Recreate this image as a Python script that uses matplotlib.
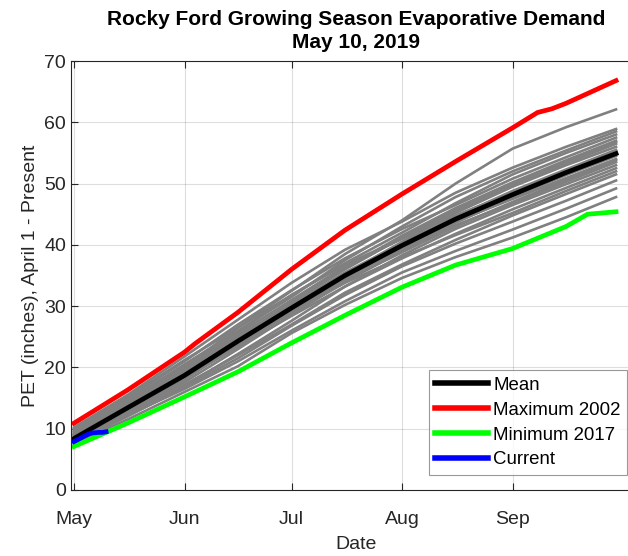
import numpy as np
import matplotlib
matplotlib.use("Agg")
import matplotlib.pyplot as plt
import matplotlib.dates as mdates

plt.rcParams['font.family'] = ['Liberation Sans', 'DejaVu Sans']

# sample dates (2019 season) for the historical curves
dates = ['2019-05-01', '2019-05-16', '2019-06-01', '2019-06-16', '2019-07-01', '2019-07-16',
         '2019-08-01', '2019-08-16', '2019-09-01', '2019-09-16', '2019-09-30']

# individual years (grey), PET inches since April 1
years_pet = [
    [9.0, 14.2, 20.0, 26.5, 32.5, 38.5, 44.0, 50.0, 55.7, 59.2, 62.1],
    [10.2, 15.5, 21.8, 27.8, 33.8, 39.2, 43.8, 48.5, 52.6, 56.0, 58.9],
    [9.2, 14.6, 20.5, 26.0, 31.5, 37.5, 43.0, 47.8, 52.0, 55.4, 58.5],
    [8.8, 13.8, 19.5, 25.8, 31.8, 37.0, 42.0, 46.8, 51.5, 55.0, 58.0],
    [9.8, 15.0, 21.0, 27.0, 32.6, 37.8, 42.6, 46.5, 50.8, 54.3, 57.5],
    [8.5, 13.5, 19.0, 24.8, 30.5, 36.2, 41.5, 46.0, 50.2, 53.8, 57.0],
    [9.2, 14.2, 19.6, 25.0, 30.6, 36.0, 41.2, 45.8, 50.0, 53.6, 56.8],
    [9.5, 14.8, 20.2, 25.5, 31.0, 36.5, 41.0, 45.5, 49.8, 53.3, 56.5],
    [8.2, 12.8, 18.0, 23.8, 29.5, 35.2, 40.5, 45.2, 49.5, 53.0, 56.0],
    [9.0, 14.0, 19.8, 25.2, 30.2, 35.5, 40.2, 44.6, 48.8, 52.3, 55.5],
    [10.0, 15.2, 21.2, 26.5, 31.8, 36.8, 41.0, 44.8, 48.5, 52.0, 55.0],
    [8.0, 12.6, 17.6, 23.0, 28.6, 34.0, 39.0, 43.6, 47.8, 51.4, 54.5],
    [8.6, 13.2, 18.4, 23.6, 29.0, 34.5, 39.5, 43.8, 47.5, 50.9, 54.0],
    [8.9, 13.9, 19.2, 24.5, 29.6, 34.2, 38.8, 43.0, 47.0, 50.6, 53.8],
    [9.4, 14.5, 19.8, 24.8, 29.8, 34.8, 39.2, 43.2, 46.8, 50.3, 53.5],
    [7.9, 12.3, 17.0, 22.2, 27.6, 33.2, 38.3, 42.6, 46.5, 49.9, 53.0],
    [8.4, 13.0, 18.2, 23.4, 28.4, 33.2, 37.8, 41.8, 45.8, 49.3, 52.5],
    [9.6, 14.4, 19.4, 24.2, 29.0, 33.8, 38.0, 41.6, 45.2, 48.8, 52.0],
    [8.1, 12.4, 17.2, 22.0, 27.0, 32.2, 36.8, 40.8, 44.8, 48.3, 51.5],
    [7.8, 12.0, 16.8, 21.5, 26.8, 31.8, 36.5, 40.2, 43.8, 47.2, 50.5],
    [8.3, 12.2, 16.5, 21.0, 26.0, 30.8, 35.5, 39.0, 42.5, 45.9, 49.2],
    [7.7, 11.5, 16.0, 20.2, 25.6, 30.2, 34.6, 38.0, 41.2, 44.5, 47.8],
]

mean_pet = [8.4, 13.4, 18.7, 24.3, 29.7, 35.0, 39.9, 44.2, 48.2, 51.8, 54.9]

max_dates = ['2019-05-01', '2019-05-16', '2019-06-01', '2019-06-04', '2019-06-16', '2019-07-01',
             '2019-07-16', '2019-08-01', '2019-08-16', '2019-09-01', '2019-09-08', '2019-09-12',
             '2019-09-16', '2019-09-30']
max_pet = [10.9, 16.3, 22.5, 23.9, 29.0, 36.0, 42.4, 48.3, 53.6, 59.1, 61.6, 62.2, 63.1, 66.8]

min_dates = ['2019-05-01', '2019-05-16', '2019-06-01', '2019-06-16', '2019-07-01', '2019-07-16',
             '2019-08-01', '2019-08-16', '2019-09-01', '2019-09-16', '2019-09-22', '2019-09-30']
min_pet = [7.1, 10.9, 15.2, 19.3, 24.0, 28.5, 33.1, 36.7, 39.4, 43.0, 45.0, 45.4]

cur_dates = ['2019-05-01', '2019-05-02', '2019-05-03', '2019-05-04', '2019-05-05',
             '2019-05-06', '2019-05-07', '2019-05-08', '2019-05-09', '2019-05-10']
cur_pet = [7.9, 8.2, 8.5, 8.8, 9.1, 9.3, 9.35, 9.4, 9.4, 9.5]

month_ticks = ['2019-05-01', '2019-06-01', '2019-07-01', '2019-08-01', '2019-09-01']


def d(lst):
    return np.array(lst, dtype='datetime64[D]')


fig = plt.figure(figsize=(6.28, 5.56), dpi=100)
ax = fig.add_axes([71 / 628, 66 / 556, 570 / 628, 429 / 556])

for yr in years_pet:
    ax.plot(d(dates), yr, color=(0.5, 0.5, 0.5), lw=1.9)
ax.plot(d(dates), mean_pet, color='k', lw=3.4, label='Mean')
ax.plot(d(max_dates), max_pet, color=(1, 0, 0), lw=3.4, label='Maximum 2002')
ax.plot(d(min_dates), min_pet, color=(0, 1, 0), lw=3.4, label='Minimum 2017')
ax.plot(d(cur_dates), cur_pet, color=(0, 0, 1), lw=3.4, label='Current')

start = np.datetime64('2019-05-01')
ax.set_xlim(start - np.timedelta64(20, 'h'), start + np.timedelta64(159, 'D'))
ax.set_ylim(0, 70)
ax.set_yticks(range(0, 71, 10))
ax.set_xticks(d(month_ticks))
ax.xaxis.set_major_formatter(mdates.DateFormatter('%b'))

dark = (0.15, 0.15, 0.15)
ax.grid(True, color=dark, alpha=0.15, lw=0.8)
ax.set_axisbelow(True)
for s in ax.spines.values():
    s.set_color(dark)
    s.set_linewidth(0.8)
ax.tick_params(direction='in', length=5, width=0.8, colors=dark, labelsize=14,
               top=True, right=True)
ax.tick_params(axis='x', pad=15)

ax.set_xlabel('Date', fontsize=14, color=dark, labelpad=6)
ax.set_ylabel('PET (inches), April 1 - Present', fontsize=14, color=dark)
ax.set_title('Rocky Ford Growing Season Evaporative Demand\nMay 10, 2019',
             fontsize=15, fontweight='bold', linespacing=1.3, pad=9)

leg = ax.legend(loc='lower right', bbox_to_anchor=(627 / 628, 81 / 556),
                bbox_transform=fig.transFigure, fontsize=13.4, frameon=True,
                fancybox=False, edgecolor=(0.5, 0.5, 0.5), handlelength=2.8,
                handletextpad=0.3, labelspacing=0.42, borderpad=0.35, borderaxespad=0)
leg.get_frame().set_linewidth(0.8)
for h in leg.get_lines():
    h.set_linewidth(4.0)

fig.savefig('out.png', dpi=100)
